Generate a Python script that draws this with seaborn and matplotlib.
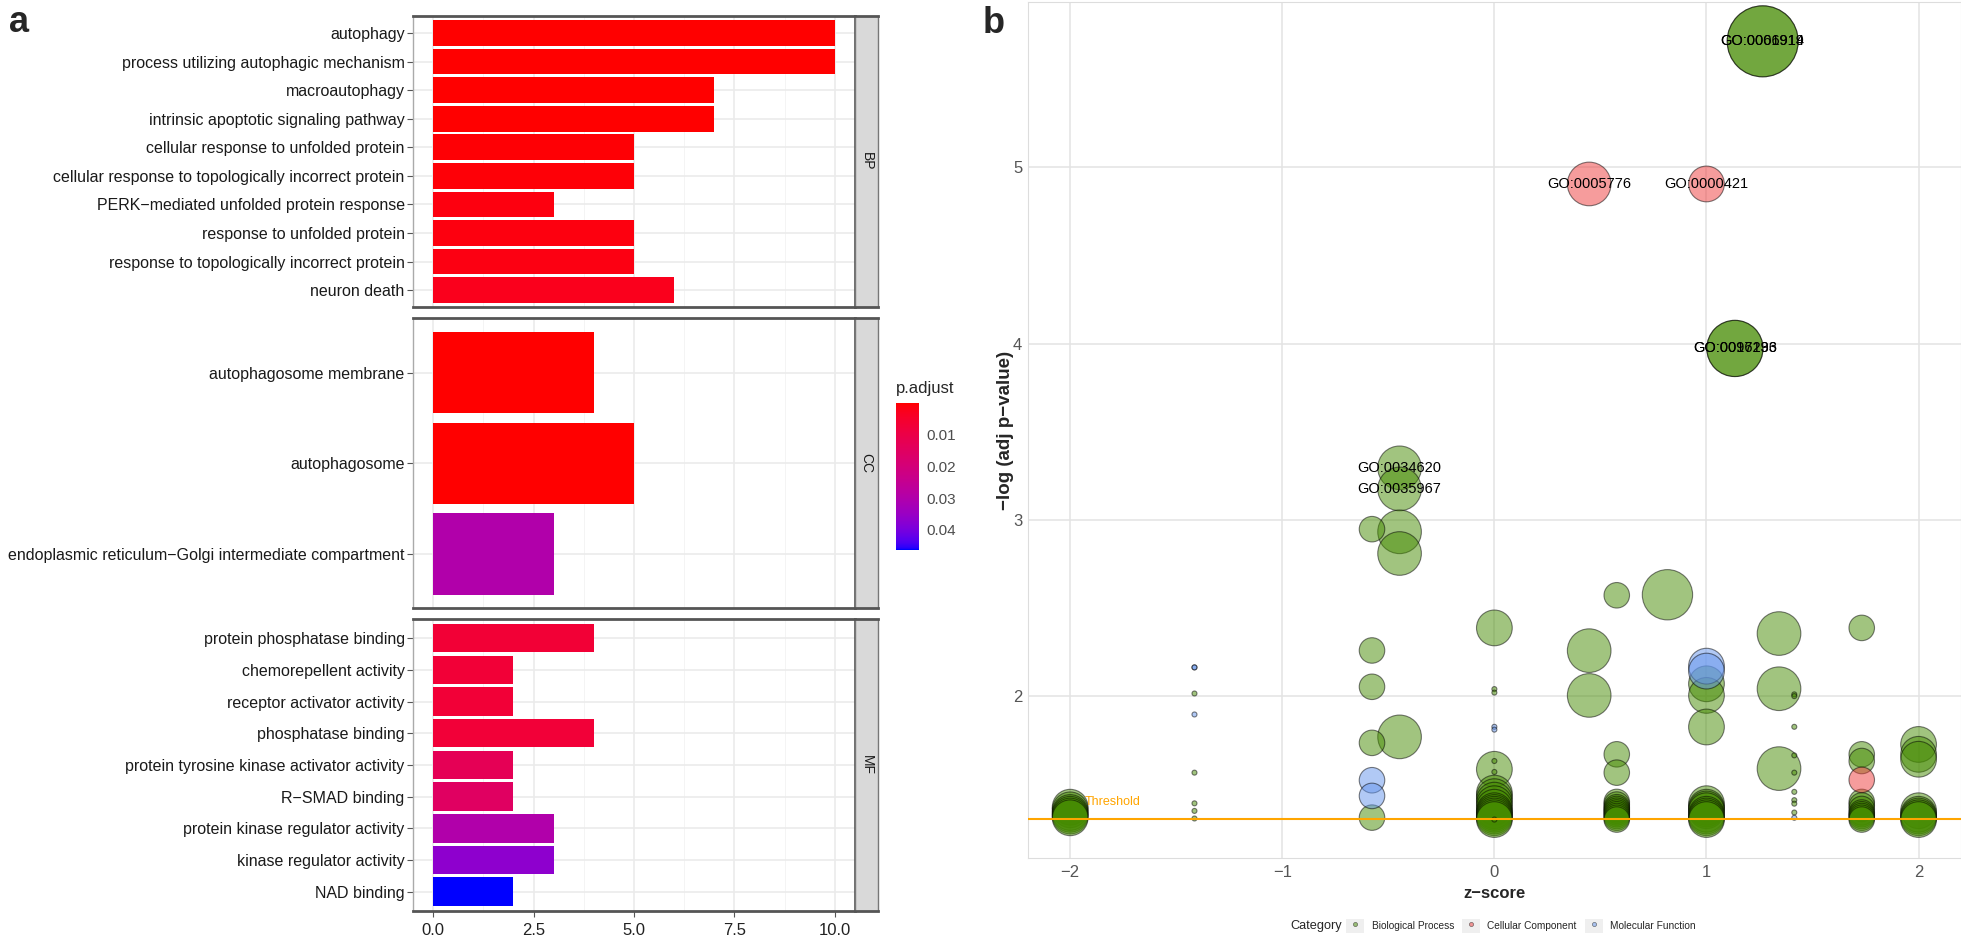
import numpy as np
import pandas as pd
import seaborn as sns
import matplotlib.pyplot as plt
from matplotlib.colors import ListedColormap, Normalize
from matplotlib.cm import ScalarMappable
from matplotlib.lines import Line2D
from matplotlib.patches import Patch
from matplotlib.legend_handler import HandlerTuple

# ---- panel a: GO enrichment bar chart (count, coloured by p.adjust) ----
bp_terms = ["autophagy", "process utilizing autophagic mechanism", "macroautophagy",
            "intrinsic apoptotic signaling pathway", "cellular response to unfolded protein",
            "cellular response to topologically incorrect protein",
            "PERK\u2212mediated unfolded protein response", "response to unfolded protein",
            "response to topologically incorrect protein", "neuron death"]
bp_counts = [10, 10, 7, 7, 5, 5, 3, 5, 5, 6]
bp_padj = [1.93e-6, 1.93e-6, 1.07e-4, 1.07e-4, 5.0e-4, 6.7e-4, 1.13e-3, 1.17e-3, 1.55e-3, 2.66e-3]

cc_terms = ["autophagosome membrane", "autophagosome",
            "endoplasmic reticulum\u2212Golgi intermediate compartment"]
cc_counts = [4, 5, 3]
cc_padj = [1.24e-5, 1.24e-5, 0.0299]

mf_terms = ["protein phosphatase binding", "chemorepellent activity", "receptor activator activity",
            "phosphatase binding", "protein tyrosine kinase activator activity", "R\u2212SMAD binding",
            "protein kinase regulator activity", "kinase regulator activity", "NAD binding"]
mf_counts = [4, 2, 2, 4, 2, 2, 3, 3, 2]
mf_padj = [0.0068, 0.0069, 0.0069, 0.0072, 0.0127, 0.0151, 0.0300, 0.0368, 0.0463]

cbar_ticks = [0.01, 0.02, 0.03, 0.04]

# ---- panel b: GO bubble plot ----
# labelled terms (-log adj p > 3)
lab_id = ["GO:0006914", "GO:0061919", "GO:0016236", "GO:0097193",
          "GO:0034620", "GO:0035967", "GO:0005776", "GO:0000421"]
lab_z = [1.265, 1.265, 1.134, 1.134, -0.447, -0.447, 0.447, 1.0]
lab_logp = [5.714, 5.714, 3.972, 3.972, 3.295, 3.175, 4.905, 4.905]
lab_count = [10, 10, 7, 7, 5, 5, 5, 4]
lab_cat = ["Biological Process"] * 6 + ["Cellular Component"] * 2

# remaining terms: 95 BP, 1 CC, 10 MF
bub_z = [
    -0.447, -0.447, -0.447,
    -2.0, -2.0, -2.0, -2.0, -2.0, -2.0,
    -1.414, -1.414, -1.414, -1.414, -1.414,
    -0.577, -0.577, -0.577, -0.577, -0.577,
    0.0, 0.0, 0.0, 0.0, 0.0, 0.0, 0.0, 0.0, 0.0, 0.0, 0.0, 0.0, 0.0,
    0.0, 0.0, 0.0, 0.0, 0.0,
    0.447, 0.447,
    0.577, 0.577, 0.577, 0.577, 0.577, 0.577, 0.577, 0.577, 0.577, 0.577, 0.577, 0.577, 0.577,
    0.816,
    1.0, 1.0, 1.0, 1.0, 1.0, 1.0, 1.0, 1.0, 1.0, 1.0, 1.0,
    1.342, 1.342, 1.342,
    1.414, 1.414, 1.414, 1.414, 1.414, 1.414, 1.414, 1.414, 1.414,
    1.732, 1.732, 1.732, 1.732, 1.732, 1.732, 1.732, 1.732, 1.732, 1.732, 1.732,
    2.0, 2.0, 2.0, 2.0, 2.0, 2.0, 2.0, 2.0,
    1.732,
    -1.414, -1.414, -1.414, -0.577, -0.577, 0.0, 0.0, 1.0, 1.0, 1.414,
]
bub_logp = [
    2.932, 2.809, 1.769,
    1.37, 1.355, 1.34, 1.33, 1.32, 1.31,
    2.015, 1.566, 1.392, 1.349, 1.306,
    2.947, 2.259, 2.053, 1.735, 1.311,
    2.387, 1.585, 1.45, 1.43, 1.41, 1.39, 1.37, 1.35, 1.34, 1.33, 1.32, 1.31, 1.30,
    2.04, 2.02, 1.632, 1.57, 1.30,
    2.258, 2.004,
    2.572, 1.670, 1.566, 1.40, 1.385, 1.37, 1.36, 1.35, 1.34, 1.33, 1.32, 1.31, 1.30,
    2.575,
    2.07, 2.004, 1.825, 1.39, 1.37, 1.36, 1.35, 1.33, 1.32, 1.31, 1.30,
    2.355, 2.042, 1.589,
    2.01, 2.0, 1.826, 1.664, 1.566, 1.457, 1.41, 1.39, 1.34,
    2.387, 1.670, 1.632, 1.40, 1.38, 1.36, 1.34, 1.33, 1.32, 1.31, 1.30,
    1.726, 1.670, 1.642, 1.35, 1.33, 1.32, 1.31, 1.30,
    1.525,
    2.163, 2.163, 1.896, 1.523, 1.434, 1.826, 1.81, 2.170, 2.142, 1.31,
]
bub_count = [
    5, 5, 5,
    4, 4, 4, 4, 4, 4,
    2, 2, 2, 2, 2,
    3, 3, 3, 3, 3,
    4, 4, 4, 4, 4, 4, 4, 4, 4, 4, 4, 4, 4,
    2, 2, 2, 2, 2,
    5, 5,
    3, 3, 3, 3, 3, 3, 3, 3, 3, 3, 3, 3, 3,
    6,
    4, 4, 4, 4, 4, 4, 4, 4, 4, 4, 4,
    5, 5, 5,
    2, 2, 2, 2, 2, 2, 2, 2, 2,
    3, 3, 3, 3, 3, 3, 3, 3, 3, 3, 3,
    4, 4, 4, 4, 4, 4, 4, 4,
    3,
    2, 2, 2, 3, 3, 2, 2, 4, 4, 2,
]
bub_cat = ["Biological Process"] * 95 + ["Cellular Component"] + ["Molecular Function"] * 10

categories = ["Biological Process", "Cellular Component", "Molecular Function"]
cat_colors = ["#458B00", "#EE3B3B", "#6495ED"]   # chartreuse4, brown2, cornflowerblue
threshold = -np.log10(0.05)


# red -> blue gradient interpolated in Lab space (like ggplot's continuous fill)
WHITE = np.array([0.95047, 1.0, 1.08883])
M = np.array([[0.4124, 0.3576, 0.1805], [0.2126, 0.7152, 0.0722], [0.0193, 0.1192, 0.9505]])


def to_lab(rgb):
    c = np.asarray(rgb, float)
    lin = np.where(c <= 0.04045, c / 12.92, ((c + 0.055) / 1.055) ** 2.4)
    xyz = M @ lin / WHITE
    f = np.where(xyz > (6 / 29) ** 3, np.cbrt(xyz), xyz / (3 * (6 / 29) ** 2) + 4 / 29)
    return np.array([116 * f[1] - 16, 500 * (f[0] - f[1]), 200 * (f[1] - f[2])])


def from_lab(lab):
    fy = (lab[0] + 16) / 116
    f = np.array([fy + lab[1] / 500, fy, fy - lab[2] / 200])
    xyz = np.where(f > 6 / 29, f ** 3, 3 * (6 / 29) ** 2 * (f - 4 / 29)) * WHITE
    lin = np.linalg.solve(M, xyz)
    c = np.where(lin <= 0.0031308, 12.92 * lin, 1.055 * np.clip(lin, 0, None) ** (1 / 2.4) - 0.055)
    return np.clip(c, 0, 1)


lab_lo, lab_hi = to_lab([1, 0, 0]), to_lab([0, 0, 1])
padj_cmap = ListedColormap([from_lab(lab_lo + t * (lab_hi - lab_lo)) for t in np.linspace(0, 1, 256)])

sns.set_style("white")
plt.rcParams['font.family'] = ['Liberation Sans', 'DejaVu Sans']

fig = plt.figure(figsize=(19.61, 9.39), dpi=100)

all_padj = bp_padj + cc_padj + mf_padj
norm = Normalize(min(all_padj), max(all_padj))

facets = [
    ("BP", bp_terms, bp_counts, bp_padj, 0.6727, 0.3105),
    ("CC", cc_terms, cc_counts, cc_padj, 0.3522, 0.3088),
    ("MF", mf_terms, mf_counts, mf_padj, 0.0301, 0.3106),
]
for i, (name, terms, counts, padj, y0, h) in enumerate(facets):
    ax = fig.add_axes([0.2106, y0, 0.2254, h])
    df = pd.DataFrame({"Description": terms, "Count": counts, "p.adjust": padj})
    pal = {t: padj_cmap(norm(p)) for t, p in zip(terms, padj)}
    sns.barplot(data=df, x="Count", y="Description", hue="Description", palette=pal,
                legend=False, width=0.9, saturation=1, edgecolor="none", ax=ax)
    ax.set_xlim(-0.5, 10.5)
    ax.set_ylim(len(terms) - 0.4, -0.6)
    ax.set_xticks([0, 2.5, 5, 7.5, 10])
    ax.set_xticklabels(["0.0", "2.5", "5.0", "7.5", "10.0"])
    ax.set_xticks([1.25, 3.75, 6.25, 8.75], minor=True)
    ax.grid(which="major", color="#EBEBEB", lw=1.2)
    ax.grid(which="minor", axis="x", color="#F4F4F4", lw=0.7)
    ax.set_axisbelow(True)
    ax.set_xlabel("")
    ax.set_ylabel("")
    ax.tick_params(axis="y", length=4, width=0.8, color="#555555", pad=2, labelsize=11.5,
                   labelcolor="#1A1A1A", left=True)
    if i < 2:
        ax.tick_params(axis="x", which="both", bottom=False, labelbottom=False)
    else:
        ax.tick_params(axis="x", which="major", bottom=True, length=4, width=0.8, color="#555555",
                       labelsize=12, labelcolor="#222222", pad=5)
        ax.tick_params(axis="x", which="minor", bottom=False)
    for side in ["top", "bottom"]:
        ax.spines[side].set_color("#555555")
        ax.spines[side].set_linewidth(2)
    ax.spines["left"].set_color("#AAAAAA")
    ax.spines["left"].set_linewidth(1)
    ax.spines["right"].set_color("#555555")
    ax.spines["right"].set_linewidth(1.2)

    sax = fig.add_axes([0.4360, y0, 0.01173, h])
    sax.set_facecolor("#D9D9D9")
    sax.set_xticks([])
    sax.set_yticks([])
    for side in ["top", "bottom"]:
        sax.spines[side].set_color("#555555")
        sax.spines[side].set_linewidth(2)
    for side in ["left", "right"]:
        sax.spines[side].set_color("#777777")
        sax.spines[side].set_linewidth(1)
    sax.text(0.5, 0.5, name, rotation=270, ha="center", va="center", fontsize=10,
             color="#1A1A1A", transform=sax.transAxes)

# colour bar (low p.adjust at the top)
cax = fig.add_axes([0.4569, 0.4143, 0.01173, 0.1565])
cb = fig.colorbar(ScalarMappable(norm=norm, cmap=padj_cmap), cax=cax)
cax.invert_yaxis()
cb.set_ticks(cbar_ticks)
cb.set_ticklabels([f"{t:.2f}" for t in cbar_ticks])
cb.minorticks_off()
cb.outline.set_visible(False)
cax.tick_params(axis="y", direction="in", color="white", length=5, width=1.2,
                left=True, right=True, labelsize=11, labelcolor="#4D4D4D", pad=5)
fig.text(896 / 1961, 1 - 388 / 939, "p.adjust", ha="left", va="center", fontsize=12)

# ---- panel b ----
lab_df = pd.DataFrame({"ID": lab_id, "zscore": lab_z, "logp": lab_logp,
                       "count": lab_count, "category": lab_cat})
rest_df = pd.DataFrame({"ID": [""] * len(bub_z), "zscore": bub_z, "logp": bub_logp,
                        "count": bub_count, "category": bub_cat})
bubbles = pd.concat([lab_df, rest_df], ignore_index=True)
bubbles["category"] = pd.Categorical(bubbles["category"], categories=categories)
bubbles = bubbles.sort_values("category", kind="stable")

axb = fig.add_axes([0.5241, 0.0859, 0.4759, 0.9116])
sns.scatterplot(data=bubbles, x="zscore", y="logp", hue="category", size="count",
                sizes=(13, 2610), size_norm=(2, 10), palette=dict(zip(categories, cat_colors)),
                alpha=0.5, edgecolor="black", linewidth=0.8, legend=False, ax=axb, zorder=2)
axb.axhline(threshold, color="orange", lw=1.5, zorder=3)
axb.text(-1.93, 1.40, "Threshold", color="orange", fontsize=9, ha="left", va="center")
for _, r in bubbles[bubbles["logp"] > 3].iterrows():
    axb.text(r["zscore"], r["logp"], r["ID"], ha="center", va="center", fontsize=10.5,
             color="black", zorder=4)

axb.set_xlim(-2.2, 2.2)
axb.set_ylim(1.08, 5.935)
axb.set_xticks([-2, -1, 0, 1, 2])
axb.set_yticks([2, 3, 4, 5])
axb.grid(True, color="#E3E3E3", lw=1.1)
axb.set_axisbelow(True)
axb.tick_params(length=0, labelsize=12, labelcolor="#555555")
axb.tick_params(axis="x", pad=5)
axb.tick_params(axis="y", pad=4)
axb.set_xlabel("z\u2212score", fontsize=12, fontweight="bold", labelpad=4)
axb.set_ylabel("\u2212log (adj p\u2212value)", fontsize=13.5, fontweight="bold")
axb.yaxis.set_label_coords(-0.015, 0.5)
for s in axb.spines.values():
    s.set_color("#DDDDDD")
    s.set_linewidth(0.8)

# legend along the bottom, title on the left as in ggplot; grey key box under each point
handles = [(Patch(facecolor="#EFEFEF", edgecolor="none"),
            Line2D([0], [0], marker="o", ls="none", markerfacecolor=c, markeredgecolor="black",
                   markeredgewidth=0.5, alpha=0.5, markersize=3))
           for c in cat_colors]
fig.legend(handles, categories, handler_map={tuple: HandlerTuple(ndivide=1, pad=0)},
           loc="center", bbox_to_anchor=(1521 / 1961, 1 - 926 / 939), ncol=3, frameon=False,
           fontsize=7.3, handlelength=1.8, handleheight=1.8, columnspacing=0.8, handletextpad=0.7)
fig.text(1290 / 1961, 1 - 926 / 939, "Category", ha="left", va="center", fontsize=9.2)

fig.text(9 / 1961, 1 - 32 / 939, "a", fontsize=26, fontweight="bold", va="baseline")
fig.text(983 / 1961, 1 - 33 / 939, "b", fontsize=26, fontweight="bold", va="baseline")

fig.savefig("out.png", dpi=100)
